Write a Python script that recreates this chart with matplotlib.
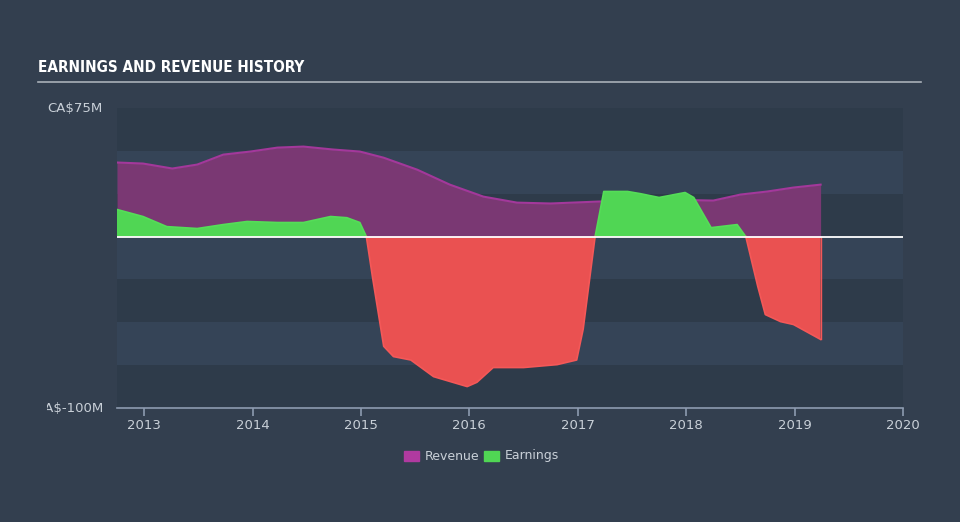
import numpy as np
import matplotlib
matplotlib.use("Agg")
import matplotlib.pyplot as plt
from matplotlib.transforms import Bbox
from matplotlib.patches import Rectangle

# revenue (CA$M)
rev_t = [2012.75, 2012.99, 2013.26, 2013.49, 2013.73, 2013.98, 2014.23, 2014.47, 2014.74,
         2014.99, 2015.21, 2015.52, 2015.82, 2016.13, 2016.44, 2016.75, 2017.18, 2017.76,
         2018.25, 2018.50, 2018.75, 2018.99, 2019.24]
rev_v = [43.2, 42.6, 39.7, 42.0, 47.8, 49.6, 51.9, 52.5, 50.8,
         49.6, 46.0, 39.0, 30.3, 23.3, 19.8, 19.3, 20.4, 21.6,
         21.0, 24.5, 26.3, 28.6, 30.3]

# earnings (CA$M)
earn_t = [2012.75, 2012.99, 2013.21, 2013.49, 2013.73, 2013.95, 2014.23, 2014.47, 2014.72,
          2014.87, 2014.99, 2015.05, 2015.11, 2015.21, 2015.30, 2015.46, 2015.67, 2015.98,
          2016.07, 2016.22, 2016.50, 2016.81, 2016.99, 2017.05, 2017.16, 2017.24, 2017.46,
          2017.58, 2017.75, 2017.99, 2018.07, 2018.23, 2018.47, 2018.55, 2018.66, 2018.73,
          2018.87, 2018.99, 2019.24]
earn_v = [15.8, 11.7, 5.8, 4.7, 7.0, 8.8, 8.2, 8.2, 11.7,
          11.0, 8.2, 0.0, -25.0, -64.0, -70.0, -72.0, -81.7, -87.5,
          -85.0, -76.4, -76.4, -74.7, -72.0, -54.0, 0.0, 26.3, 26.3,
          25.0, 22.8, 25.7, 22.8, 5.2, 7.0, 0.0, -29.0, -45.5,
          -49.6, -51.3, -60.0]

years = [2013, 2014, 2015, 2016, 2017, 2018, 2019, 2020]
ymin, ymax = -100, 75

BG = "#333f4f"
fig = plt.figure(figsize=(9.6, 5.22), dpi=100, facecolor=BG)
ax = fig.add_axes([117/960, 1 - 408/522, 786/960, 300/522])
ax.set_facecolor(BG)

# horizontal bands
for i, lo in enumerate(range(ymin, ymax, 25)):
    c = "#2e3b4a" if i % 2 == 0 else "#354457"
    ax.axhspan(lo, lo + 25, color=c, lw=0, zorder=0)

rt, rv = np.array(rev_t), np.array(rev_v)
et, ev = np.array(earn_t), np.array(earn_v)

ax.fill_between(rt, 0, rv, color="#7a3873", lw=0, zorder=2)
ax.plot(rt, rv, color="#a3389b", lw=1.5, zorder=3)

ax.fill_between(et, 0, ev, where=ev >= 0, interpolate=True, color="#50d654", lw=0, zorder=4)
ax.fill_between(et, 0, ev, where=ev <= 0, interpolate=True, color="#ea5151", lw=0, zorder=4)
pos = np.where(ev >= 0, ev, np.nan)
neg = np.where(ev <= 0, ev, np.nan)
ax.plot(et, pos, color="#55dd58", lw=1.2, zorder=5)
ax.plot(et, neg, color="#f45858", lw=1.2, zorder=5)
ax.plot([et[-1], et[-1]], [0, ev[-1]], color="#f45858", lw=1, zorder=5)

ax.axhline(0, color="white", lw=1.3, zorder=6)

ax.set_xlim(2012.75, 2020.0)
ax.set_ylim(ymin, ymax)
for s in ["top", "right", "left"]:
    ax.spines[s].set_visible(False)
ax.spines["bottom"].set_color("#8d9bb0")
ax.spines["bottom"].set_linewidth(1.2)
ax.set_xticks(years)
ax.set_xticklabels([str(y) for y in years])
ax.tick_params(axis="x", colors="#8d9bb0", length=6, width=1.2, labelcolor="#c9d0d8",
               labelsize=9.5, pad=2)
ax.set_yticks([])

# y labels (clipped at the left like the original)
clip = Bbox.from_extents(47, 0, 960, 522)
for val, txt in [(75, "CA$75M"), (-100, "CA$-100M")]:
    t = fig.text(103/960, ax.transData.transform((0, val))[1] / 522, txt, ha="right", va="center",
                 color="#c9d0d8", fontsize=9.5)
    t.set_clip_box(clip)
    t.set_clip_on(True)

# title (condensed face)
fig.text(38/960, 1 - 68/522, "EARNINGS AND REVENUE HISTORY", color="white", fontsize=11,
         fontweight="bold", fontstretch="condensed",
         family=["DejaVu Sans"], va="center")
fig.add_artist(plt.Line2D([38/960, 921/960], [1 - 82/522, 1 - 82/522], color="#a9b0b8", lw=1.2))

# legend
ly = 1 - 456/522
fig.add_artist(Rectangle((404/960, ly - 5/522), 15/960, 10/522, color="#b03aa0", transform=fig.transFigure))
fig.text(425/960, ly, "Revenue", color="#c9d0d8", fontsize=9, va="center")
fig.add_artist(Rectangle((484/960, ly - 5/522), 15/960, 10/522, color="#50d654", transform=fig.transFigure))
fig.text(505/960, ly, "Earnings", color="#c9d0d8", fontsize=9, va="center")

fig.savefig("out.png", dpi=100, facecolor=BG)
